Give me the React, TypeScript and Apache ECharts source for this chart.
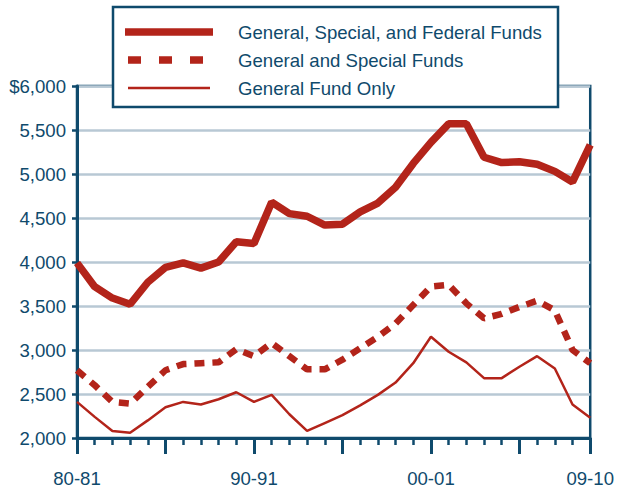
import React, { useEffect, useRef } from "react";
import * as echarts from "echarts";

const categories = [
  "80-81", "81-82", "82-83", "83-84", "84-85", "85-86", "86-87", "87-88", "88-89", "89-90",
  "90-91", "91-92", "92-93", "93-94", "94-95", "95-96", "96-97", "97-98", "98-99", "99-00",
  "00-01", "01-02", "02-03", "03-04", "04-05", "05-06", "06-07", "07-08", "08-09", "09-10",
];

const allFunds = [
  3990, 3720, 3590, 3520, 3770, 3940, 3990, 3930, 4000, 4230,
  4210, 4680, 4550, 4520, 4420, 4430, 4570, 4670, 4850, 5120,
  5360, 5570, 5570, 5190, 5130, 5140, 5110, 5030, 4910, 5330,
];

const generalSpecial = [
  2770, 2600, 2410, 2390, 2580, 2770, 2840, 2850, 2860, 3010,
  2930, 3080, 2930, 2780, 2780, 2890, 3020, 3150, 3300, 3510,
  3720, 3740, 3530, 3360, 3410, 3490, 3560, 3450, 3000, 2850,
];

const generalOnly = [
  2410, 2240, 2080, 2060, 2200, 2350, 2410, 2380, 2440, 2520,
  2410, 2490, 2270, 2080, 2170, 2260, 2370, 2490, 2630, 2850,
  3150, 2980, 2860, 2680, 2680, 2810, 2930, 2790, 2380, 2230,
];

const seriesNames = [
  "General, Special, and Federal Funds",
  "General and Special Funds",
  "General Fund Only",
];

const labelIndices = [0, 10, 20, 29];

const RED = "#b3241a";
const BLUE = "#0f4a6c";
const GRID = "#b8c8d4";
const FONT = "'Liberation Sans', Arial, Helvetica, sans-serif";
const FS = 18.6;

export default function App() {
  const ref = useRef<HTMLDivElement>(null);

  useEffect(() => {
    if (!ref.current) return;
    const chart = echarts.init(ref.current, undefined, { renderer: "svg" });
    const text = (i: number, y: number) => ({
      type: "text",
      z: 102,
      x: 238,
      y,
      style: {
        text: seriesNames[i],
        fill: BLUE,
        font: `${FS}px ${FONT}`,
        verticalAlign: "middle",
      },
    });
    const option: any = {
      animation: false,
      backgroundColor: "#ffffff",
      textStyle: { fontFamily: FONT },
      grid: {
        left: 77,
        right: 22,
        top: 86,
        bottom: 50,
        show: true,
        borderColor: BLUE,
        borderWidth: 2.5,
        backgroundColor: "transparent",
      },
      xAxis: [
        {
          type: "category",
          data: categories,
          boundaryGap: false,
          position: "bottom",
          axisLine: { show: true, lineStyle: { color: BLUE, width: 3 } },
          axisTick: { show: true, interval: 0, length: 7, lineStyle: { color: BLUE, width: 2.5 } },
          axisLabel: {
            interval: (i: number) => labelIndices.indexOf(i) >= 0,
            margin: 31,
            fontSize: FS,
            color: BLUE,
            fontFamily: FONT,
          },
          splitLine: { show: false },
        },
        {
          type: "category",
          data: categories,
          boundaryGap: false,
          position: "bottom",
          offset: 0,
          axisLine: { show: false },
          axisTick: {
            show: true,
            interval: (i: number) => i % 5 === 0 || i === categories.length - 1,
            length: 16,
            lineStyle: { color: BLUE, width: 3 },
          },
          axisLabel: { show: false },
          splitLine: { show: false },
        },
      ],
      yAxis: {
        type: "value",
        min: 2000,
        max: 6000,
        interval: 500,
        axisLine: { show: true, lineStyle: { color: BLUE, width: 3 } },
        axisTick: { show: true, length: 5, lineStyle: { color: BLUE, width: 2.5 } },
        axisLabel: {
          margin: 11,
          fontSize: FS,
          color: BLUE,
          fontFamily: FONT,
          formatter: (v: number) =>
            v === 6000 ? "$6,000" : v.toLocaleString("en-US"),
        },
        splitLine: { show: true, lineStyle: { color: GRID, width: 2.5 } },
      },
      series: [
        {
          name: seriesNames[0],
          type: "line",
          data: allFunds,
          symbol: "none",
          z: 5,
          lineStyle: { color: RED, width: 7.5, join: "bevel" },
        },
        {
          name: seriesNames[1],
          type: "line",
          data: generalSpecial,
          symbol: "none",
          z: 4,
          lineStyle: { color: RED, width: 6.5, type: [10, 8], cap: "butt" },
        },
        {
          name: seriesNames[2],
          type: "line",
          data: generalOnly,
          symbol: "none",
          z: 3,
          lineStyle: { color: RED, width: 2.5 },
        },
      ],
      graphic: [
        {
          type: "rect",
          z: 100,
          shape: { x: 113, y: 7, width: 445, height: 100 },
          style: { fill: "#ffffff", stroke: BLUE, lineWidth: 2.5 },
        },
        {
          type: "line",
          z: 101,
          shape: { x1: 125, y1: 32, x2: 213, y2: 32 },
          style: { stroke: RED, lineWidth: 7.5 },
        },
        {
          type: "line",
          z: 101,
          shape: { x1: 128, y1: 60, x2: 203, y2: 60 },
          style: { stroke: RED, lineWidth: 7.5, lineDash: [13, 18] },
        },
        {
          type: "line",
          z: 101,
          shape: { x1: 128, y1: 88, x2: 210, y2: 88 },
          style: { stroke: RED, lineWidth: 2.5 },
        },
        text(0, 32),
        text(1, 60),
        text(2, 88),
      ],
    };
    chart.setOption(option);
    return () => chart.dispose();
  }, []);

  return (
    <div
      ref={ref}
      style={{ position: "fixed", left: 0, top: 0, width: 617, height: 488 }}
    />
  );
}
